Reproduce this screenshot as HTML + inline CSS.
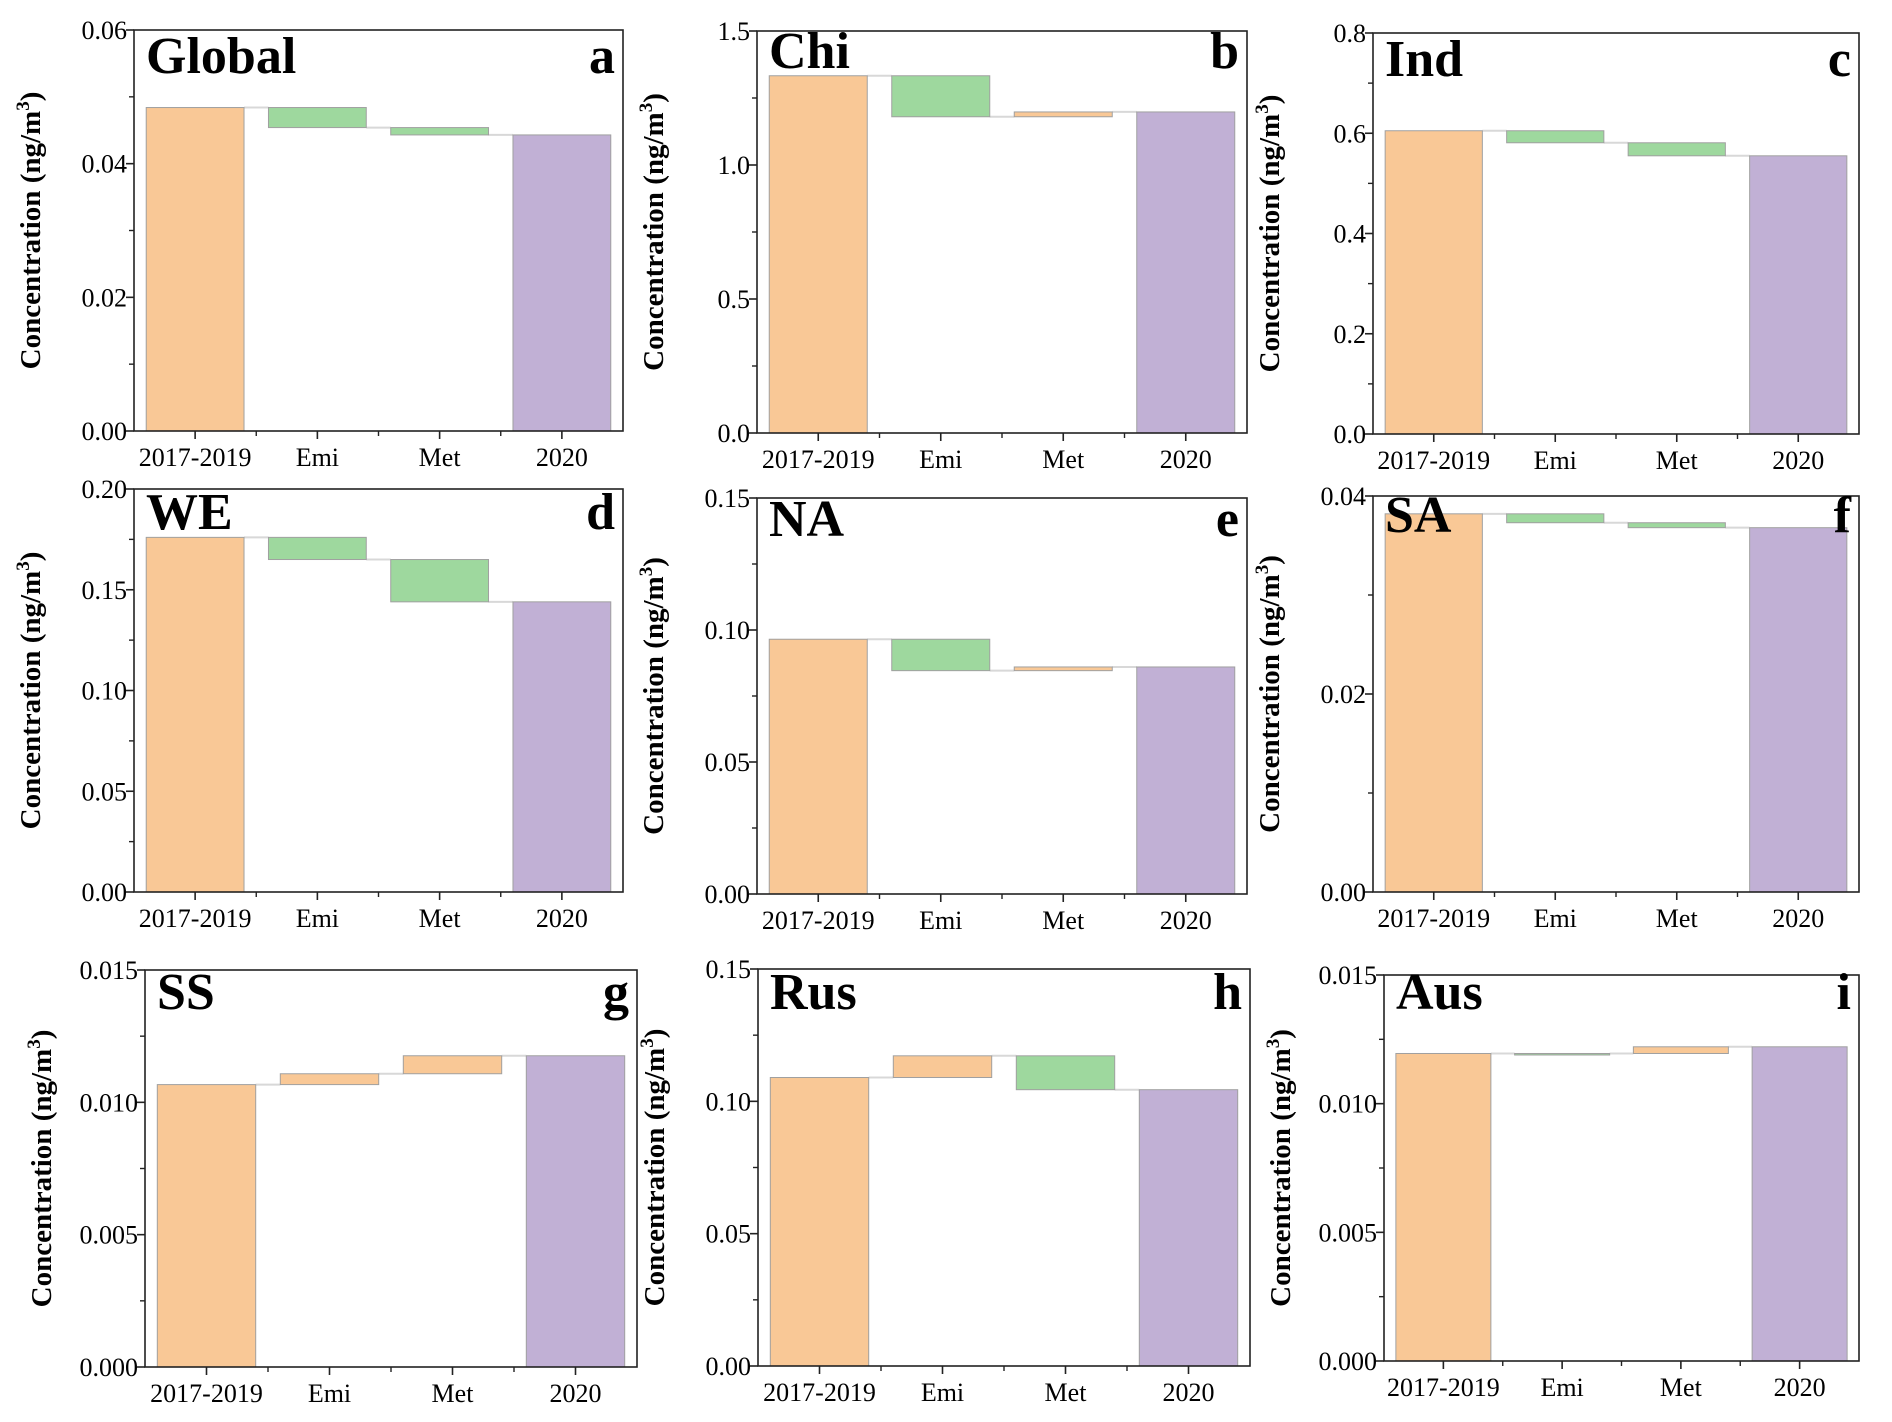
<!DOCTYPE html>
<html><head><meta charset="utf-8"><style>
html,body{margin:0;padding:0;background:#fff;}
svg{display:block;}
text{font-family:"Liberation Serif",serif;fill:#000;}
</style></head><body>
<svg id="fig" width="1892" height="1422" viewBox="0 0 1892 1422"></svg>
<script>
const categories = ["2017-2019","Emi","Met","2020"];
const regionNames = ["Global","Chi","Ind","WE","NA","SA","SS","Rus","Aus"];
const panelLetters = ["a","b","c","d","e","f","g","h","i"];
const baseValues = [0.0484,1.333,0.605,0.176,0.0965,0.0382,0.01067,0.109,0.01195];
const emiChanges = [-0.0030,-0.153,-0.024,-0.011,-0.0119,-0.0009,0.00041,0.0082,0.0];
const metChanges = [-0.0011,0.018,-0.026,-0.021,0.0014,-0.0005,0.00068,-0.0128,0.00026];
const yMaxes = [0.06,1.5,0.8,0.20,0.15,0.04,0.015,0.15,0.015];
const yTickLabels = [
 ["0.00","0.02","0.04","0.06"],
 ["0.0","0.5","1.0","1.5"],
 ["0.0","0.2","0.4","0.6","0.8"],
 ["0.00","0.05","0.10","0.15","0.20"],
 ["0.00","0.05","0.10","0.15"],
 ["0.00","0.02","0.04"],
 ["0.000","0.005","0.010","0.015"],
 ["0.00","0.05","0.10","0.15"],
 ["0.000","0.005","0.010","0.015"]
];
const boxes = [
 [134,30,623,431],[757,31,1247,433],[1373,33,1859,434],
 [134,489,623,892],[757,498,1247,894],[1373,496,1859,892],
 [145,970,637,1367],[758,969,1250,1366],[1384,975,1859,1361]
];
const titleOff = [43,37,43,40,38,36,39,40,34];
const NS="http://www.w3.org/2000/svg";
const svg=document.getElementById('fig');
function el(tag,attrs,parent,txt){const e=document.createElementNS(NS,tag);for(const k in attrs)e.setAttribute(k,attrs[k]);if(txt!==undefined)e.textContent=txt;parent.appendChild(e);return e;}
const COL_UP="#f9c896",COL_DOWN="#9ed89e",COL_END="#c1b0d5";
for(let p=0;p<9;p++){
  const [L,T,R,B]=boxes[p];
  const g=el('g',{},svg);
  
  
  const ymax=yMaxes[p];
  const y=v=>B-(v/ymax)*(B-T);
  const x=c=>L+(c+0.5)/4*(R-L);
  const bw=0.8*(R-L)/4;
  const v0=baseValues[p], v1=v0+emiChanges[p], v2=v1+metChanges[p];
  const bars=[[0,v0,COL_UP,'bar-2017-2019'],[Math.min(v0,v1),Math.max(v0,v1),emiChanges[p]>0?COL_UP:COL_DOWN,'bar-emi'],
              [Math.min(v1,v2),Math.max(v1,v2),metChanges[p]>0?COL_UP:COL_DOWN,'bar-met'],[0,v2,COL_END,'bar-2020']];
  const lvls=[v0,v1,v2];
  for(let i=0;i<3;i++){
    const c=el('line',{x1:x(i)+bw/2,x2:x(i+1)-bw/2,y1:y(lvls[i]),y2:y(lvls[i]),stroke:'#d8d8d8','stroke-width':2},g);
    
    
  }
  bars.forEach((b,i)=>{
    const h=Math.max(y(b[0])-y(b[1]),1.5);
    const r=el('rect',{x:x(i)-bw/2,y:y(b[1]),width:bw,height:h,fill:b[2],stroke:'#a0a0a0','stroke-width':1},g);
    
    
  });
  const fr=el('rect',{x:L,y:T,width:R-L,height:B-T,fill:'none',stroke:'#222','stroke-width':1.6},g);
  
  
  const labs=yTickLabels[p];
  const n=labs.length-1;
  for(let i=0;i<=n;i++){
    const v=ymax*i/n, yy=y(v);
    el('line',{x1:L-8,x2:L,y1:yy,y2:yy,stroke:'#222','stroke-width':1.6},g);
    const t=el('text',{x:L-7,y:yy+9,'text-anchor':'end','font-size':26},g,labs[i]);
    
    
    if(i<n){const ym=y(ymax*(i+0.5)/n);el('line',{x1:L-5,x2:L,y1:ym,y2:ym,stroke:'#222','stroke-width':1.4},g);}
  }
  for(let i=0;i<4;i++){
    el('line',{x1:x(i),x2:x(i),y1:B,y2:B+8,stroke:'#222','stroke-width':1.6},g);
    const t=el('text',{x:x(i),y:B+35,'text-anchor':'middle','font-size':26},g,categories[i]);
    
    
  }
  for(let i=1;i<4;i++){const xx=L+i*(R-L)/4;el('line',{x1:xx,x2:xx,y1:B,y2:B+5,stroke:'#222','stroke-width':1.4},g);}
  const cy=(T+B)/2, cx=L-94;
  const yt=el('text',{x:cx,y:cy,'text-anchor':'middle','font-size':29,'font-weight':'bold',transform:`rotate(-90 ${cx} ${cy})`},g);
  
  
  yt.appendChild(document.createTextNode('Concentration (ng/m'));
  el('tspan',{dy:-11,'font-size':19},yt,'3');
  el('tspan',{dy:11},yt,')');
  const tt=el('text',{x:L+12,y:T+titleOff[p],'font-size':52,'font-weight':'bold'},g,regionNames[p]);
  
  
  const lt=el('text',{x:R-8,y:T+titleOff[p],'text-anchor':'end','font-size':52,'font-weight':'bold'},g,panelLetters[p]);
  
  
}
</script>
</body></html>
